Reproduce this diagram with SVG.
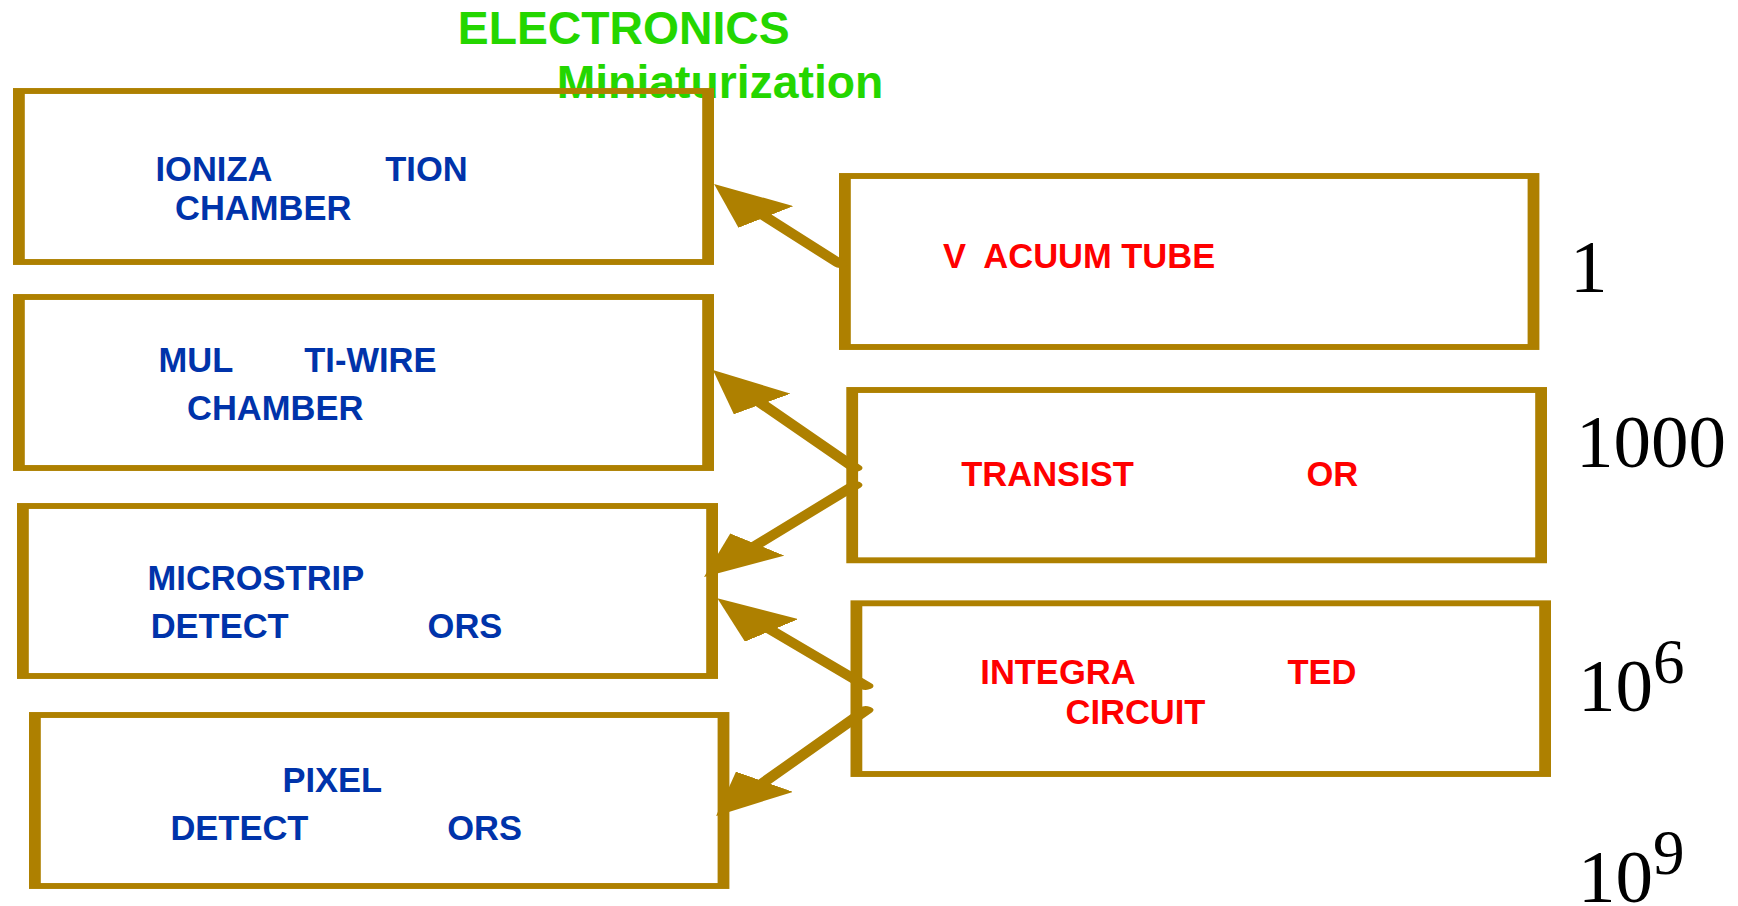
<svg xmlns="http://www.w3.org/2000/svg" width="1738" height="906" viewBox="0 0 1738 906">
<style>
.box{fill:none;stroke:#ae8000;stroke-width:5.9}
.conn{fill:none;stroke:#ae8000;stroke-width:7.5;stroke-linecap:round}
.lbl{font-family:"Liberation Sans",Arial,sans-serif;font-weight:bold;font-size:34.5px}
.blue{fill:#0033aa}
.red{fill:#ff0000}
.title{font-family:"Liberation Sans",Arial,sans-serif;font-weight:bold;font-size:46.3px;fill:#24d600}
.num{font-family:"Liberation Serif","Times New Roman",serif;font-size:75px;fill:#000}
</style>
<defs>
<marker id="ah" markerUnits="userSpaceOnUse" markerWidth="42" markerHeight="35" refX="22" refY="17.5" orient="auto">
<path d="M0,0 L42,17.5 L0,35 Z" fill="#ae8000"/>
</marker>
</defs>
<rect width="1738" height="906" fill="#ffffff"/>
<g id="title">
<text class="title" x="457.8" y="44.3">ELECTRONICS</text>
<text class="title" x="556.7" y="97.7">Miniaturization</text>
</g>
<g id="ionization">
<g transform="scale(2,1)"><rect class="box" x="9.45" y="91" width="344.6" height="171"/></g>
<text class="lbl blue" x="155.5" y="181">IONIZA<tspan x="385.3">TION</tspan></text>
<text class="lbl blue" x="175" y="220">CHAMBER</text>
</g>
<g id="multiwire">
<g transform="scale(2,1)"><rect class="box" x="9.45" y="297" width="344.6" height="171"/></g>
<text class="lbl blue" x="158.6" y="371.7">MUL<tspan x="304.3">TI-WIRE</tspan></text>
<text class="lbl blue" x="187" y="420">CHAMBER</text>
</g>
<g id="microstrip">
<g transform="scale(2,1)"><rect class="box" x="11.45" y="506" width="344.6" height="170"/></g>
<text class="lbl blue" x="147.6" y="590">MICROSTRIP</text>
<text class="lbl blue" x="150.7" y="637.7">DETECT<tspan x="427.6">ORS</tspan></text>
</g>
<g id="pixel">
<g transform="scale(2,1)"><rect class="box" x="17.45" y="715" width="344.3" height="171"/></g>
<text class="lbl blue" x="282.4" y="792.3">PIXEL</text>
<text class="lbl blue" x="170.4" y="840">DETECT<tspan x="447.2">ORS</tspan></text>
</g>
<g id="vacuumtube">
<g transform="scale(2,1)"><rect class="box" x="422.45" y="176" width="344.3" height="171"/></g>
<text class="lbl red" x="943" y="268.3">V<tspan x="983.3">ACUUM TUBE</tspan></text>
</g>
<g id="transistor">
<g transform="scale(2,1)"><rect class="box" x="426.1" y="390" width="344.45" height="170.3"/></g>
<text class="lbl red" x="961.3" y="486">TRANSIST<tspan x="1306.4">OR</tspan></text>
</g>
<g id="integrated">
<g transform="scale(2,1)"><rect class="box" x="428.2" y="603.3" width="344.35" height="170.7"/></g>
<text class="lbl red" x="980.3" y="684.3">INTEGRA<tspan x="1287.5">TED</tspan></text>
<text class="lbl red" x="1065.5" y="724.3">CIRCUIT</text>
</g>
<g id="scale">
<text class="num" x="1570" y="291.7">1</text>
<text class="num" x="1576" y="466.5">1000</text>
<text class="num" x="1578" y="710.7">10<tspan font-size="63" x="1653" y="683.3">6</tspan></text>
<text class="num" x="1578" y="902">10<tspan font-size="63" x="1653" y="874">9</tspan></text>
</g>
<g id="connectors" transform="scale(2,1)">
<line class="conn" x1="420" y1="264" x2="369.4" y2="199.7" marker-end="url(#ah)"/>
<line class="conn" x1="427.5" y1="468" x2="368.2" y2="386.2" marker-end="url(#ah)"/>
<line class="conn" x1="427.5" y1="485" x2="364.7" y2="561.5" marker-end="url(#ah)"/>
<line class="conn" x1="433" y1="686" x2="371.6" y2="613.6" marker-end="url(#ah)"/>
<line class="conn" x1="433" y1="710" x2="369.6" y2="799.7" marker-end="url(#ah)"/>
</g>
</svg>
